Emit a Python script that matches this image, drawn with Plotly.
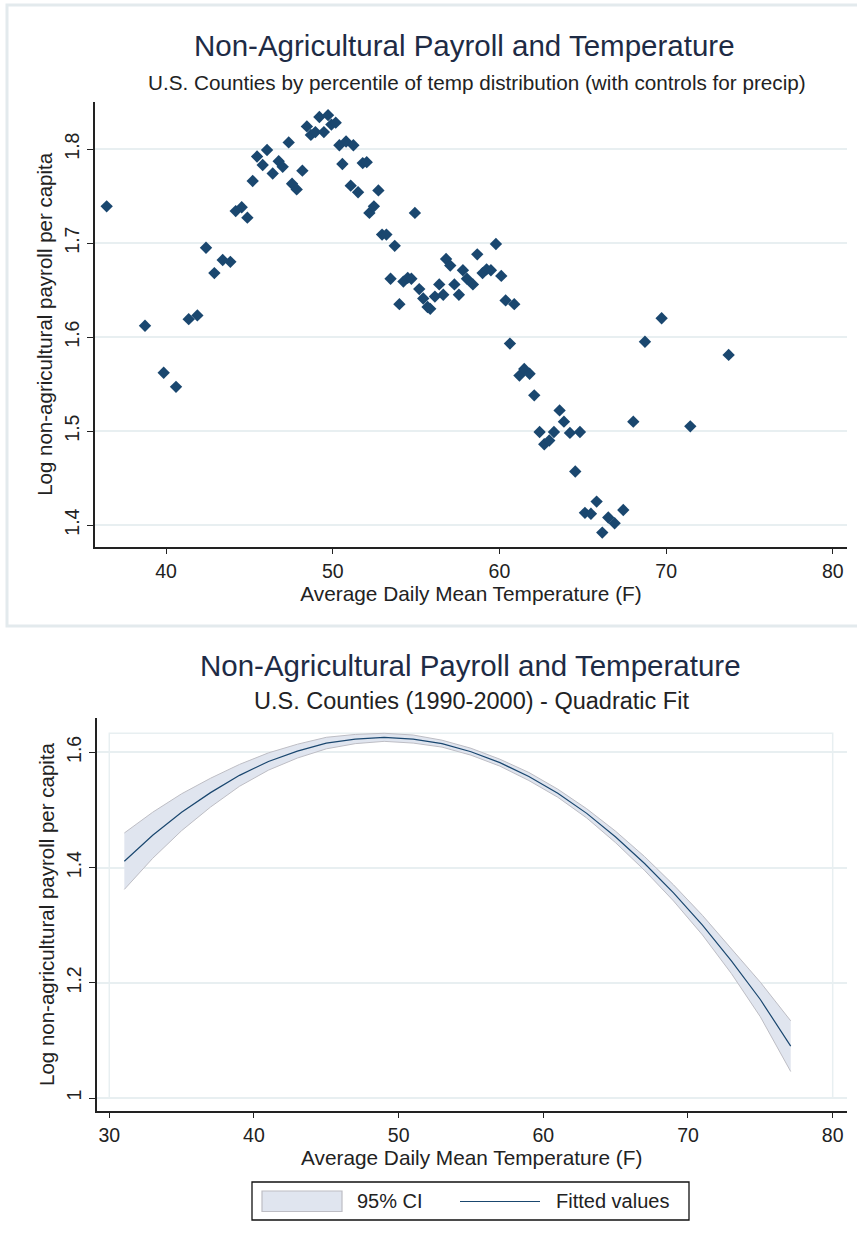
import plotly.graph_objects as go

# ---------------- data ----------------
temp_pct = [36.44, 38.74, 39.86, 40.60, 41.36, 41.88, 42.40, 42.90, 43.40, 43.86,
            44.18, 44.54, 44.88, 45.20, 45.46, 45.80, 46.06, 46.40, 46.76, 47.00,
            47.36, 47.56, 47.84, 48.18, 48.45, 48.69, 48.96, 49.20, 49.47, 49.72,
            49.92, 50.18, 50.40, 50.58, 50.80, 51.08, 51.24, 51.52, 51.80, 52.04,
            52.20, 52.47, 52.74, 52.96, 53.22, 53.47, 53.72, 54.00, 54.24, 54.50,
            54.72, 54.93, 55.19, 55.43, 55.69, 55.85, 56.13, 56.39, 56.63, 56.80,
            57.05, 57.30, 57.57, 57.81, 58.05, 58.41, 58.67, 58.99, 59.23, 59.49,
            59.79, 60.11, 60.37, 60.63, 60.89, 61.20, 61.49, 61.81, 62.09, 62.41,
            62.69, 62.99, 63.27, 63.61, 63.87, 64.23, 64.55, 64.83, 65.13, 65.49,
            65.83, 66.17, 66.53, 66.91, 67.43, 68.03, 68.73, 69.73, 71.45, 73.75]
payroll_pct = [1.739, 1.612, 1.562, 1.547, 1.619, 1.623, 1.695, 1.668, 1.682, 1.680,
               1.734, 1.738, 1.727, 1.766, 1.792, 1.783, 1.799, 1.774, 1.787, 1.781,
               1.807, 1.763, 1.757, 1.777, 1.824, 1.815, 1.818, 1.834, 1.818, 1.836,
               1.826, 1.828, 1.804, 1.784, 1.808, 1.761, 1.804, 1.754, 1.785, 1.786,
               1.732, 1.739, 1.756, 1.709, 1.709, 1.662, 1.697, 1.635, 1.659, 1.663,
               1.662, 1.732, 1.651, 1.641, 1.632, 1.630, 1.643, 1.656, 1.645, 1.683,
               1.676, 1.656, 1.645, 1.671, 1.662, 1.656, 1.688, 1.668, 1.672, 1.671,
               1.699, 1.665, 1.639, 1.593, 1.635, 1.559, 1.566, 1.561, 1.538, 1.499,
               1.486, 1.490, 1.499, 1.522, 1.510, 1.498, 1.457, 1.499, 1.413, 1.412,
               1.425, 1.392, 1.408, 1.402, 1.416, 1.510, 1.595, 1.620, 1.505, 1.581]

fit_x = [31.04, 33, 35, 37, 39, 41, 43, 45, 47, 49, 51, 53, 55, 57, 59, 61,
         63, 65, 67, 69, 71, 73, 75, 77.1]
fit_y = [1.411, 1.456, 1.496, 1.530, 1.560, 1.584, 1.602, 1.616, 1.623, 1.626,
         1.623, 1.615, 1.601, 1.582, 1.558, 1.529, 1.494, 1.453, 1.407, 1.356,
         1.300, 1.238, 1.171, 1.090]
ci_lo = [1.362, 1.416, 1.464, 1.505, 1.541, 1.569, 1.590, 1.606, 1.615, 1.619,
         1.616, 1.609, 1.595, 1.576, 1.551, 1.522, 1.486, 1.443, 1.395, 1.342,
         1.283, 1.216, 1.141, 1.046]
ci_hi = [1.460, 1.496, 1.528, 1.555, 1.579, 1.599, 1.614, 1.626, 1.631, 1.633,
         1.630, 1.621, 1.607, 1.588, 1.565, 1.536, 1.502, 1.463, 1.419, 1.370,
         1.317, 1.260, 1.201, 1.134]

x_ticks_top = [40, 50, 60, 70, 80]
y_ticks_top = [1.4, 1.5, 1.6, 1.7, 1.8]
x_ticks_bot = [30, 40, 50, 60, 70, 80]
y_ticks_bot = [1.0, 1.2, 1.4, 1.6]

title_txt = "Non-Agricultural Payroll and Temperature"
sub_top = "U.S. Counties by percentile of temp distribution (with controls for precip)"
sub_bot = "U.S. Counties (1990-2000) - Quadratic Fit"
x_title = "Average Daily Mean Temperature (F)"
y_title = "Log non-agricultural payroll per capita"

# ---------------- style ----------------
W, H = 857, 1245
FONT = "Liberation Sans, Arial, sans-serif"
NAVY = "#1a476f"
GRID = "#e8eff1"
TXT = "#222222"
TITLE_C = "#1e2b45"

def px(xp):
    return xp / W

def py(yp):
    return 1 - yp / H

fig = go.Figure()

fig.add_trace(go.Scatter(x=temp_pct, y=payroll_pct, mode="markers",
                         marker=dict(symbol="diamond", size=9.5, color=NAVY),
                         xaxis="x", yaxis="y", showlegend=False))

fig.add_trace(go.Scatter(x=fit_x, y=ci_hi, mode="lines",
                         line=dict(color="#bdbdc4", width=1),
                         xaxis="x2", yaxis="y2", showlegend=False))
fig.add_trace(go.Scatter(x=fit_x, y=ci_lo, mode="lines", fill="tonexty",
                         fillcolor="#e0e5ef",
                         line=dict(color="#bdbdc4", width=1),
                         xaxis="x2", yaxis="y2", showlegend=False))
fig.add_trace(go.Scatter(x=fit_x, y=fit_y, mode="lines",
                         line=dict(color=NAVY, width=1.2),
                         xaxis="x2", yaxis="y2", showlegend=False))

axis_common = dict(showline=True, linecolor="#222", linewidth=1.5,
                   ticks="outside", ticklen=6, tickwidth=1.3, tickcolor="#222",
                   tickfont=dict(family=FONT, size=19.5, color=TXT),
                   zeroline=False, mirror=False)

XT_FONT = dict(family=FONT, size=20.8, color=TXT)
YT_FONT = dict(family=FONT, size=20.5, color=TXT)

fig.update_layout(
    width=W, height=H,
    margin=dict(l=0, r=0, t=0, b=0),
    paper_bgcolor="white", plot_bgcolor="white",
    showlegend=False,
    xaxis=dict(**axis_common, domain=[px(95), px(847)], range=[35.74, 80.85],
               tickvals=x_ticks_top, showgrid=False, anchor="y",
               title=dict(text=x_title, font=XT_FONT, standoff=3)),
    yaxis=dict(**axis_common, domain=[py(546.7), py(102)], range=[1.377, 1.85],
               tickvals=y_ticks_top, ticktext=[str(v) for v in y_ticks_top], tickangle=-90,
               showgrid=True, gridcolor=GRID, gridwidth=1.5, anchor="x",
               title=dict(text=y_title, font=YT_FONT, standoff=3)),
    xaxis2=dict(**axis_common, domain=[px(96.7), px(846.7)], range=[29.13, 80.97],
                tickvals=x_ticks_bot, showgrid=False, anchor="y2",
                title=dict(text=x_title, font=XT_FONT, standoff=3)),
    yaxis2=dict(**axis_common, domain=[py(1110.7), py(718.3)], range=[0.978, 1.659],
                tickvals=y_ticks_bot, ticktext=[f"{v:g}" for v in y_ticks_bot], tickangle=-90,
                showgrid=True, gridcolor=GRID, gridwidth=1.5, anchor="x2",
                title=dict(text=y_title, font=YT_FONT, standoff=3)),
)

shapes = []
# top panel border
shapes.append(dict(type="rect", xref="paper", yref="paper",
                   x0=px(7), x1=px(W + 5), y0=py(626), y1=py(5),
                   line=dict(color="#e3eaed", width=3), layer="below"))
# bottom plot region outline
shapes.append(dict(type="rect", xref="x2", yref="y2",
                   x0=x_ticks_bot[0], x1=x_ticks_bot[-1],
                   y0=y_ticks_bot[0], y1=max(ci_hi),
                   line=dict(color=GRID, width=1.5), layer="below"))
# legend box
shapes.append(dict(type="rect", xref="paper", yref="paper",
                   x0=px(252), x1=px(689), y0=py(1220), y1=py(1182),
                   line=dict(color="#111", width=1.3), fillcolor="white"))
shapes.append(dict(type="rect", xref="paper", yref="paper",
                   x0=px(262), x1=px(342), y0=py(1211.5), y1=py(1191),
                   line=dict(color="#bdbdc4", width=1.2), fillcolor="#e0e5ef"))
shapes.append(dict(type="line", xref="paper", yref="paper",
                   x0=px(460), x1=px(540), y0=py(1201.5), y1=py(1201.5),
                   line=dict(color=NAVY, width=1.2)))
fig.update_layout(shapes=shapes)

ann = []
ann.append(dict(text=title_txt, x=px(464), y=py(46), xref="paper", yref="paper",
                showarrow=False, xanchor="center", yanchor="middle",
                font=dict(family=FONT, size=29.5, color=TITLE_C)))
ann.append(dict(text=sub_top, x=px(476.5), y=py(83), xref="paper", yref="paper",
                showarrow=False, xanchor="center", yanchor="middle",
                font=dict(family=FONT, size=20.7, color=TXT)))
ann.append(dict(text=title_txt, x=px(471), y=py(665), xref="paper", yref="paper",
                showarrow=False, xanchor="center", yanchor="middle",
                font=dict(family=FONT, size=29.5, color=TITLE_C)))
ann.append(dict(text=sub_bot, x=px(471.5), y=py(701), xref="paper", yref="paper",
                showarrow=False, xanchor="center", yanchor="middle",
                font=dict(family=FONT, size=23.5, color=TXT)))
ann.append(dict(text="95% CI", x=px(355), y=py(1201), xref="paper", yref="paper",
                showarrow=False, xanchor="left", yanchor="middle",
                font=dict(family=FONT, size=20, color=TXT)))
ann.append(dict(text="Fitted values", x=px(554), y=py(1201), xref="paper", yref="paper",
                showarrow=False, xanchor="left", yanchor="middle",
                font=dict(family=FONT, size=20, color=TXT)))
fig.update_layout(annotations=ann)

fig.write_html("out.html",
               config={"displayModeBar": False},
               post_script="document.body.style.margin='0';document.body.style.overflow='hidden';")
